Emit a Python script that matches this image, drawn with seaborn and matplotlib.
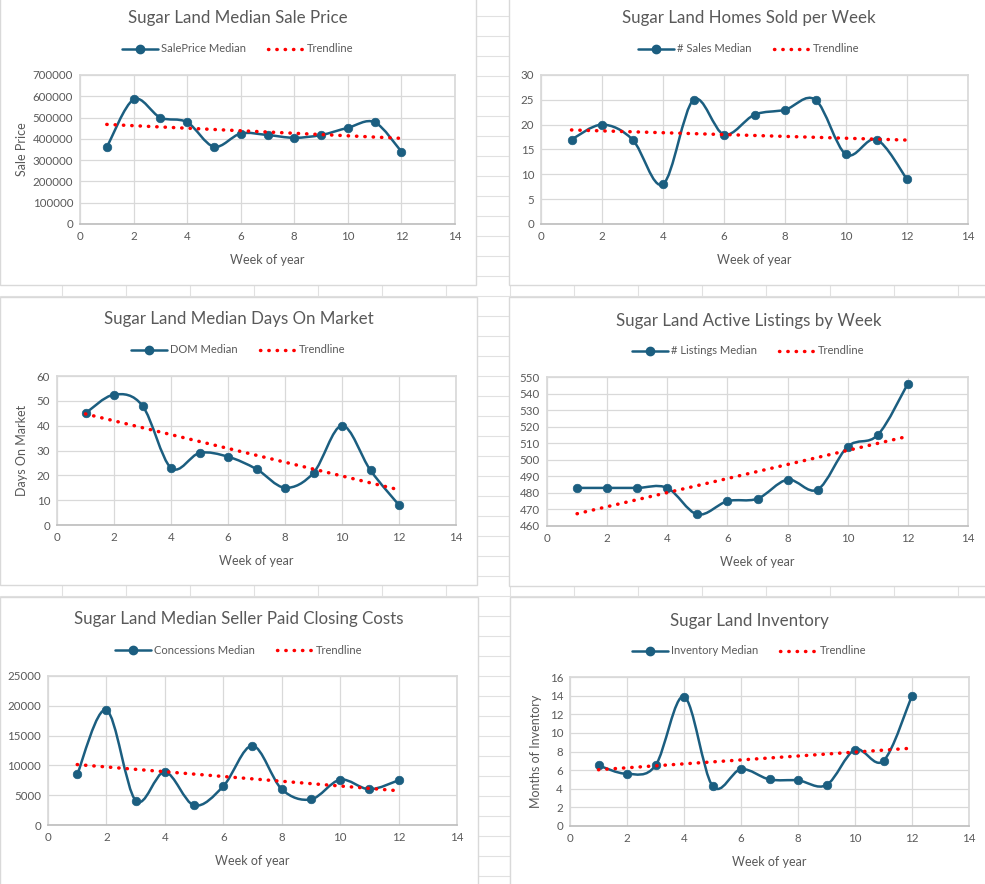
#Importing necessary libraries:
import numpy as np
import pandas as pd
import seaborn as sns
import matplotlib.pyplot as plt
from matplotlib.path import Path
from matplotlib.patches import PathPatch, Rectangle
from matplotlib.lines import Line2D

#Weekly medians (weeks 1-12)
weeks = [1, 2, 3, 4, 5, 6, 7, 8, 9, 10, 11, 12]
sale_price = [360000, 585000, 500000, 478000, 363000, 425000, 418000, 405000, 418000, 452000, 478000, 340000]
sales_count = [17, 20, 17, 8, 25, 18, 22, 23, 25, 14, 17, 9]
dom = [45, 52.5, 48, 23, 29, 27.5, 22.5, 15, 21, 40, 22, 8]
listings = [483, 483, 483, 483, 467, 475, 476.5, 488, 482, 508, 515, 546]
concessions = [8500, 19300, 4100, 8900, 3300, 6500, 13300, 6000, 4300, 7600, 6000, 7500]
inventory = [6.5, 5.6, 6.5, 13.9, 4.3, 6.1, 5.0, 4.9, 4.4, 8.2, 7.0, 14.0]

titles = ['Sugar Land Median Sale Price', 'Sugar Land Homes Sold per Week',
          'Sugar Land Median Days On Market', 'Sugar Land Active Listings by Week',
          'Sugar Land Median Seller Paid Closing Costs', 'Sugar Land Inventory']
series_names = ['SalePrice Median', '# Sales Median', 'DOM Median',
                '# Listings Median', 'Concessions Median', 'Inventory Median']
y_labels = ['Sale Price', '', 'Days On Market', '', '', 'Months of Inventory']
y_ranges = [(0, 700000, 100000), (0, 30, 5), (0, 60, 10), (460, 550, 10), (0, 25000, 5000), (0, 16, 2)]
all_values = [sale_price, sales_count, dom, listings, concessions, inventory]

W, H = 985, 884
LINE_C = '#1b5e80'
TXT_C = '#595959'
GRID_C = '#d9d9d9'

sns.set_theme(style='white')
plt.rcParams['font.family'] = ['Lato', 'DejaVu Sans']

fig = plt.figure(figsize=(W / 100, H / 100), dpi=100)

#spreadsheet cells behind the charts
bg = fig.add_axes([0, 0, 1, 1], zorder=-5)
bg.set_xlim(0, W)
bg.set_ylim(H, 0)
bg.axis('off')
for x in range(62, W, 64):
    bg.axvline(x, color='#e1e1e1', lw=0.8)
for y in range(16, H, 20):
    bg.axhline(y, color='#e1e1e1', lw=0.8)

#chart boxes: (panel left, top, right, bottom), (plot left, top, right, bottom), title y, legend y, xlabel y, ylabel x
panels = [
    ((0, -2, 476, 285), (80, 75, 455, 224), 18, 49, 260, 22),
    ((509, -2, 988, 285), (541, 75, 968, 224), 18, 49, 260, None),
    ((0, 297, 477, 585), (57, 376, 456, 525), 319, 350, 561, 22),
    ((509, 297, 988, 586), (547, 377, 968, 526), 321, 351, 562, None),
    ((0, 597, 478, 887), (48, 676, 457, 825), 619, 650, 861, None),
    ((510, 597, 988, 887), (570, 677, 969, 826), 621, 651, 862, 536),
]


def smooth_path(xs, ys):
    #Excel style smoothed line: cubic bezier through every point
    pts = np.column_stack([xs, ys]).astype(float)
    ext = np.vstack([pts[0], pts, pts[-1]])
    verts = [pts[0]]
    codes = [Path.MOVETO]
    for i in range(len(pts) - 1):
        p0, p1, p2, p3 = ext[i], ext[i + 1], ext[i + 2], ext[i + 3]
        verts += [p1 + (p2 - p0) / 6, p2 - (p3 - p1) / 6, p2]
        codes += [Path.CURVE4] * 3
    return Path(verts, codes)


for i in range(6):
    (pl, pt, pr, pb), (al, at, ar, ab), ty, ly, xly, ylx = panels[i]
    vals = all_values[i]

    #white chart area with grey border
    bg.add_patch(Rectangle((pl, pt), pr - pl, pb - pt, facecolor='white', edgecolor=GRID_C, lw=1, zorder=2))

    ax = fig.add_axes([al / W, 1 - ab / H, (ar - al) / W, (ab - at) / H])
    df = pd.DataFrame({'week': weeks, 'value': vals})

    ax.add_patch(PathPatch(smooth_path(weeks, vals), facecolor='none', edgecolor=LINE_C, lw=1.8, zorder=3))
    sns.scatterplot(data=df, x='week', y='value', ax=ax, color=LINE_C, s=38, edgecolor=LINE_C, zorder=4, legend=False)

    #linear trendline like Excel
    slope, icpt = np.polyfit(weeks, vals, 1)
    trend = pd.DataFrame({'week': [weeks[0], weeks[-1]], 'value': [icpt + slope * weeks[0], icpt + slope * weeks[-1]]})
    sns.lineplot(data=trend, x='week', y='value', ax=ax, color='#ff0000', lw=2.5,
                 linestyle=(0, (0.1, 2.3)), dash_capstyle='round', zorder=5)

    y0, y1, ystep = y_ranges[i]
    ax.set_xlim(0, 14)
    ax.set_ylim(y0, y1)
    ax.set_xticks(range(0, 15, 2))
    ax.set_yticks(np.arange(y0, y1 + ystep, ystep))
    ax.grid(True, color=GRID_C, lw=0.9)
    ax.set_axisbelow(True)
    for s in ax.spines.values():
        s.set_color(GRID_C)
    ax.spines['bottom'].set_color('#bfbfbf')
    ax.tick_params(length=0, labelsize=8.3, colors=TXT_C, pad=5)
    ax.set_xlabel('')
    ax.set_ylabel('')

    cx = (pl + pr) / 2
    fig.text(cx / W, 1 - ty / H, titles[i], ha='center', va='center', fontsize=12.2, color=TXT_C)
    fig.text(((al + ar) / 2) / W, 1 - xly / H, 'Week of year', ha='center', va='center', fontsize=9, color=TXT_C)
    if y_labels[i]:
        fig.text(ylx / W, 1 - ((at + ab) / 2) / H, y_labels[i], ha='center', va='center',
                 rotation=90, fontsize=9, color=TXT_C)

    handles = [Line2D([], [], color=LINE_C, lw=1.8, marker='o', ms=6),
               Line2D([], [], color='#ff0000', lw=2.5, linestyle=(0, (0.1, 2.3)), dash_capstyle='round')]
    fig.legend(handles, [series_names[i], 'Trendline'], loc='center', bbox_to_anchor=(cx / W, 1 - ly / H),
               ncol=2, frameon=False, fontsize=8, labelcolor=TXT_C, handlelength=3.2,
               handletextpad=0.3, columnspacing=2.0)

fig.savefig('out.png', dpi=100)
